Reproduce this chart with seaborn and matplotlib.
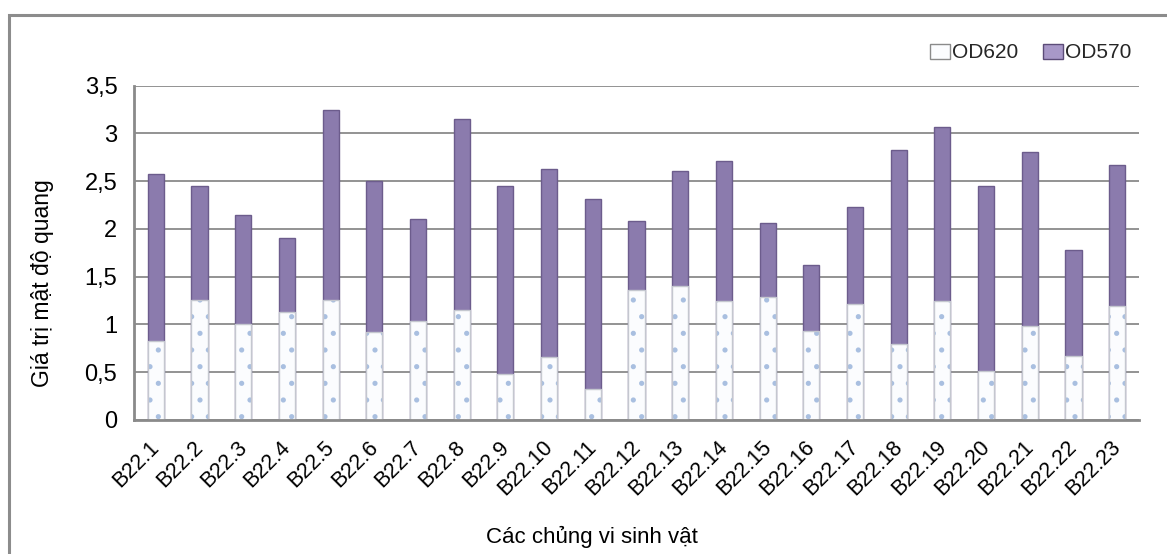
import matplotlib
matplotlib.use("Agg")
import matplotlib.pyplot as plt
import seaborn as sns
import numpy as np
import pandas as pd
from matplotlib.patches import Patch, Rectangle
from matplotlib.ticker import FuncFormatter
from matplotlib.colors import to_rgba
from matplotlib.transforms import ScaledTranslation

strains = ["B22.1", "B22.2", "B22.3", "B22.4", "B22.5", "B22.6", "B22.7", "B22.8",
           "B22.9", "B22.10", "B22.11", "B22.12", "B22.13", "B22.14", "B22.15",
           "B22.16", "B22.17", "B22.18", "B22.19", "B22.20", "B22.21", "B22.22", "B22.23"]
od620 = [0.83, 1.26, 1.00, 1.13, 1.26, 0.92, 1.04, 1.15, 0.48, 0.66, 0.32, 1.36,
         1.40, 1.24, 1.29, 0.93, 1.21, 0.80, 1.25, 0.51, 0.98, 0.67, 1.19]
od570 = [1.74, 1.19, 1.14, 0.77, 1.98, 1.58, 1.06, 2.00, 1.97, 1.97, 1.99, 0.72,
         1.21, 1.47, 0.77, 0.69, 1.02, 2.02, 1.82, 1.94, 1.82, 1.11, 1.48]
series_names = ["OD620", "OD570"]
yticks = [0, 0.5, 1, 1.5, 2, 2.5, 3, 3.5]

df = pd.DataFrame({"strain": strains, "OD620": od620, "OD570": od570})
df["total"] = df["OD620"] + df["OD570"]

sns.set_theme(style="white")
plt.rcParams["font.family"] = ["Liberation Sans", "DejaVu Sans"]
plt.rcParams["hatch.linewidth"] = 1.3

fig = plt.figure(figsize=(11.67, 5.54), dpi=100)
ax = fig.add_axes([134 / 1167, 1 - 420 / 554, (1139 - 134) / 1167, (420 - 85.5) / 554])

purple = "#8b7bad"
purple_edge = "#6c5c8c"
white_edge = "#c4c7cf"
dot_color = "#a9bfe0"

sns.barplot(data=df, x="strain", y="total", order=strains, color=purple,
            width=0.37, saturation=1, edgecolor=purple_edge, linewidth=1.0,
            ax=ax, zorder=3)
n_first = len(ax.patches)
sns.barplot(data=df, x="strain", y="OD620", order=strains, color="white",
            width=0.37, saturation=1, edgecolor=white_edge, linewidth=1.0,
            ax=ax, zorder=4)
for p in ax.patches[n_first:]:
    p.set_facecolor("#fbfcfe")
    p.set_hatch(".")
    p._hatch_color = to_rgba(dot_color)

ax.set_ylim(0, 3.5)
ax.set_xlim(-0.5, len(strains) - 0.5)
ax.set_yticks(yticks)
ax.yaxis.set_major_formatter(FuncFormatter(lambda v, p: ("%g" % v).replace(".", ",")))
ax.grid(axis="y", color="#8a8a8a", linewidth=1.3, zorder=0)
ax.set_axisbelow(True)
for s in ["top", "right"]:
    ax.spines[s].set_visible(False)
for s in ["left", "bottom"]:
    ax.spines[s].set_color("#8a8a8a")
    ax.spines[s].set_linewidth(2)
    ax.spines[s].set_zorder(5)

ax.tick_params(axis="y", length=0, pad=12, labelsize=17, colors="black")
ax.tick_params(axis="x", length=0, pad=12, labelsize=15.5, colors="black")
shift = ScaledTranslation(8 / 100, 0, fig.dpi_scale_trans)
for lbl in ax.get_xticklabels():
    lbl.set_rotation(45)
    lbl.set_ha("right")
    lbl.set_va("top")
    lbl.set_transform(lbl.get_transform() + shift)

ax.set_xlabel("")
ax.set_ylabel("Giá trị mật độ quang", fontsize=16.5, color="black")
ax.yaxis.set_label_coords(-0.080, 0.41)

fig.text(592 / 1167, 1 - 537 / 554, "Các chủng vi sinh vật", ha="center", va="center",
         fontsize=16, color="black")

handles = [Patch(facecolor="#fbfcfe", edgecolor="#8a8a8a", linewidth=1.0),
           Patch(facecolor="#a898c8", edgecolor="#5c4c78", linewidth=1.0)]
fig.legend(handles, series_names, loc="center left",
           bbox_to_anchor=(930 / 1167, 1 - 53 / 554), ncol=2, frameon=False,
           fontsize=15, handlelength=0.95, handleheight=0.7, handletextpad=0.1,
           columnspacing=1.2, borderaxespad=0, borderpad=0)

fig.patches.append(Rectangle((8.5 / 1167, -0.2), 1.2, 1.2 - 15 / 554,
                             transform=fig.transFigure, fill=False,
                             edgecolor="#8c8c8c", linewidth=2.2, zorder=0))

fig.savefig("out.png", dpi=100)
